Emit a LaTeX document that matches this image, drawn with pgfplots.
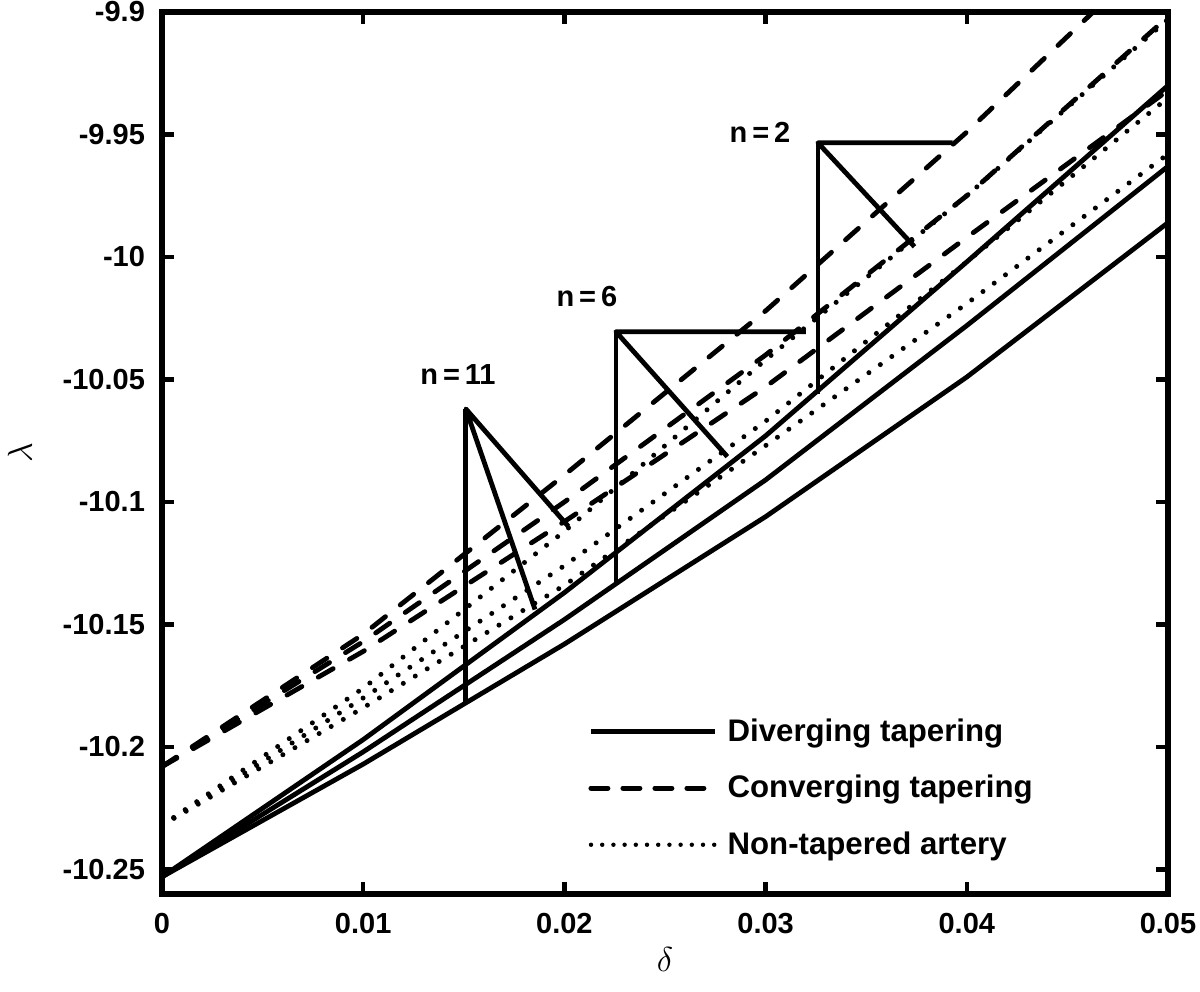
\documentclass[border=0pt]{standalone}
\usepackage{fontspec}
\setmainfont{Liberation Sans}
\usepackage{pgfplots}
\pgfplotsset{compat=1.18}

\pgfplotstableread{
x      S2       S6       S11      D2       D6       D11      N2       N6       N11
0      -10.253  -10.253  -10.253  -10.208  -10.208  -10.208  -10.232  -10.232  -10.232
0.01   -10.197  -10.202  -10.207  -10.154  -10.157  -10.161  -10.176  -10.180  -10.184
0.02   -10.137  -10.148  -10.158  -10.089  -10.100  -10.108  -10.112  -10.126  -10.134
0.03   -10.073  -10.091  -10.106  -10.022  -10.040  -10.053  -10.042  -10.067  -10.077
0.04   -10.002  -10.028  -10.049  -9.949   -9.975   -9.992   -9.975   -10.002  -10.019
0.05   -9.930   -9.963   -9.986   -9.871   -9.902   -9.932   -9.903   -9.935   -9.958
}\datatable

\begin{document}
\begin{tikzpicture}
\begin{axis}[
  scale only axis, width=503pt, height=441pt,
  xmin=0, xmax=0.05, ymin=-10.26, ymax=-9.9,
  scaled x ticks=false, scaled y ticks=false,
  axis line style={line width=2.6pt, line join=miter},
  tick style={line width=2.2pt, black}, tick align=inside, major tick length=6pt,
  xtick={0,0.01,0.02,0.03,0.04,0.05},
  xticklabels={0,0.01,0.02,0.03,0.04,0.05},
  ytick={-10.25,-10.2,-10.15,-10.1,-10.05,-10,-9.95,-9.9},
  yticklabels={-10.25,-10.2,-10.15,-10.1,-10.05,-10,-9.95,-9.9},
  ticklabel style={font=\fontsize{14.5}{17}\selectfont\bfseries},
  xticklabel style={yshift=-6pt},
  yticklabel style={xshift=-5pt},
  xlabel={$\delta$}, ylabel={$\lambda$},
  label style={font=\fontsize{17}{19}\selectfont},
  xlabel style={at={(axis description cs:0.5,-0.0748)}, anchor=center},
  ylabel style={at={(axis description cs:-0.1412,0.5)}, anchor=center},
  legend style={draw=none, fill=none, at={(axis description cs:0.4235,0.120)}, anchor=west,
    inner sep=0pt, row sep=11.5pt, column sep=3pt, nodes={inner sep=2pt, anchor=west},
    font=\fontsize{15.6}{18}\selectfont\bfseries},
  legend cell align=left,
  legend image code/.code={\draw[#1] (0pt,0pt) -- (62pt,0pt);},
]
% solid (diverging)
\addplot[black, line width=2.4pt, line join=round, forget plot] table[x=x,y=S2]{\datatable};
\addplot[black, line width=2.4pt, line join=round, forget plot] table[x=x,y=S6]{\datatable};
\addplot[black, line width=2.4pt, line join=round, forget plot] table[x=x,y=S11]{\datatable};
% dashed (converging)
\addplot[black, line width=2.4pt, line cap=round, dash pattern=on 8.6pt off 9.4pt, forget plot] table[x=x,y=D2]{\datatable};
\addplot[black, line width=2.4pt, line cap=round, dash pattern=on 8.6pt off 9.4pt, forget plot] table[x=x,y=D6]{\datatable};
\addplot[black, line width=2.4pt, line cap=round, dash pattern=on 8.6pt off 9.4pt, forget plot] table[x=x,y=D11]{\datatable};
% dotted (non-tapered)
\addplot[black, line width=2.5pt, line cap=round, dash pattern=on 0pt off 7pt, forget plot] table[x=x,y=N2]{\datatable};
\addplot[black, line width=2.5pt, line cap=round, dash pattern=on 0pt off 7pt, forget plot] table[x=x,y=N6]{\datatable};
\addplot[black, line width=2.5pt, line cap=round, dash pattern=on 0pt off 7pt, forget plot] table[x=x,y=N11]{\datatable};

% annotation pointers
\addplot[black, line width=2.4pt, line join=round, forget plot] coordinates {(0.0393,-9.9534) (0.0326,-9.9534) (0.0374,-9.9958)};
\addplot[black, line width=2.4pt, forget plot] coordinates {(0.0326,-9.9534) (0.0326,-10.056)};
\addplot[black, line width=2.4pt, line join=round, forget plot] coordinates {(0.0320,-10.0305) (0.02256,-10.0305) (0.0281,-10.0815)};
\addplot[black, line width=2.4pt, forget plot] coordinates {(0.02256,-10.0305) (0.02256,-10.1325)};
\addplot[black, line width=2.4pt, line join=round, forget plot] coordinates {(0.0202,-10.110) (0.0151,-10.062) (0.01854,-10.1439)};
\addplot[black, line width=2.4pt, forget plot] coordinates {(0.0151,-10.062) (0.0151,-10.182)};

\node[font=\fontsize{14.5}{17}\selectfont\bfseries] at (axis cs:0.02972,-9.9493) {n\,=\,2};
\node[font=\fontsize{14.5}{17}\selectfont\bfseries] at (axis cs:0.02112,-10.0162) {n\,=\,6};
\node[font=\fontsize{14.5}{17}\selectfont\bfseries] at (axis cs:0.01471,-10.0480) {n\,=\,11};

\addlegendimage{black, line width=2.6pt}
\addlegendentry{Diverging tapering}
\addlegendimage{black, line width=2.6pt, line cap=round, dash pattern=on 8.4pt off 7.6pt}
\addlegendentry{Converging tapering}
\addlegendimage{black, line width=2.2pt, line cap=round, dash pattern=on 0pt off 5.6pt}
\addlegendentry{Non-tapered artery}
\end{axis}
\pgfresetboundingbox
\path ([xshift=-81pt,yshift=-49pt]current axis.south west) rectangle ([xshift=16pt,yshift=6pt]current axis.north east);
\end{tikzpicture}
\end{document}
